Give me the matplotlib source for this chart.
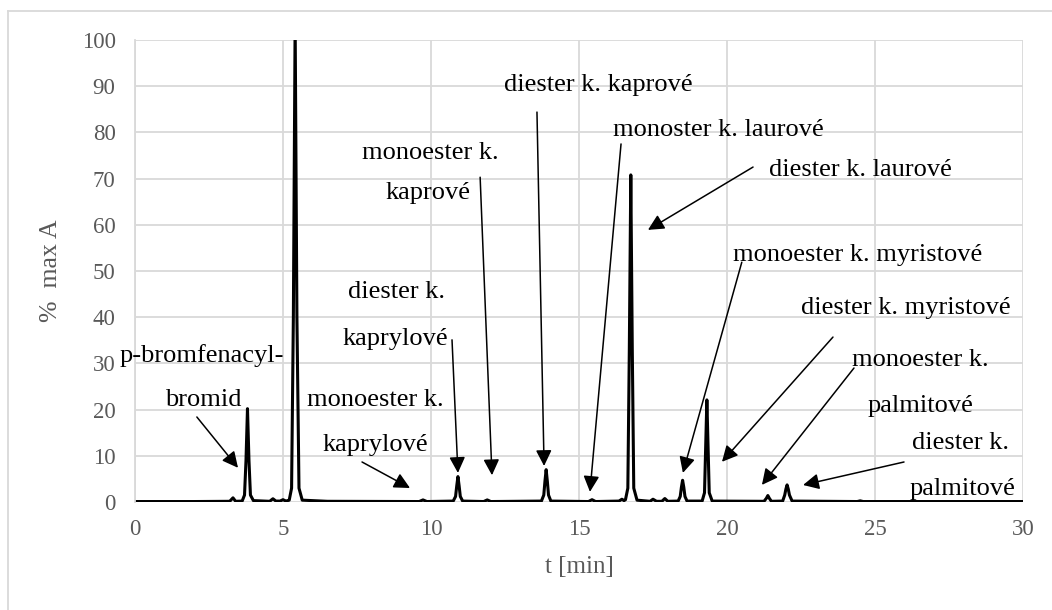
import matplotlib
matplotlib.use("Agg")
import matplotlib.pyplot as plt
from matplotlib.lines import Line2D

# ---------------- data ----------------
t_min = [0.0, 2.0, 3.20, 3.31, 3.40, 3.62, 3.70, 3.75, 3.80, 3.85, 3.90, 4.00,
         4.55, 4.66, 4.76, 4.90, 5.00, 5.10, 5.21, 5.29, 5.35, 5.41, 5.47, 5.54, 5.65,
         6.5, 9.60, 9.73, 9.86, 10.75, 10.83, 10.87, 10.91, 10.95, 10.99, 11.07,
         11.78, 11.90, 12.02, 13.73, 13.81, 13.85, 13.89, 13.93, 13.97, 14.05,
         15.32, 15.44, 15.56, 16.35, 16.45, 16.52, 16.57, 16.65, 16.70, 16.75, 16.80, 16.85, 16.96,
         17.40, 17.50, 17.62, 17.80, 17.90, 18.00, 18.35, 18.42, 18.46, 18.50, 18.54, 18.58, 18.65,
         19.16, 19.24, 19.28, 19.32, 19.36, 19.40, 19.50,
         21.25, 21.33, 21.38, 21.43, 21.50, 21.88, 21.95, 21.99, 22.03, 22.07, 22.11, 22.20,
         24.40, 24.50, 24.60, 30.0]
signal = [0.1, 0.1, 0.15, 0.9, 0.15, 0.2, 1.5, 9.0, 20.2, 9.0, 1.5, 0.3,
          0.15, 0.7, 0.2, 0.2, 0.5, 0.2, 0.4, 3.0, 40.0, 104.0, 40.0, 3.0, 0.4,
          0.15, 0.1, 0.45, 0.1, 0.2, 1.2, 3.5, 5.5, 3.5, 1.2, 0.2,
          0.1, 0.45, 0.1, 0.2, 1.5, 4.5, 7.0, 4.5, 1.5, 0.2,
          0.1, 0.5, 0.1, 0.2, 0.6, 0.3, 0.5, 3.0, 33.0, 70.8, 33.0, 3.0, 0.4,
          0.15, 0.6, 0.15, 0.15, 0.75, 0.15, 0.2, 1.2, 3.2, 4.7, 3.2, 1.2, 0.2,
          0.2, 2.0, 12.0, 22.1, 12.0, 2.0, 0.2,
          0.15, 0.8, 1.4, 0.8, 0.15, 0.2, 1.5, 2.8, 3.7, 2.8, 1.5, 0.2,
          0.1, 0.25, 0.1, 0.1]

x_ticks = [0, 5, 10, 15, 20, 25, 30]
y_ticks = [0, 10, 20, 30, 40, 50, 60, 70, 80, 90, 100]
x_label = "t [min]"
y_label = "%  max A"

label_lines = [
    ["p-bromfenacyl-", "bromid"],
    ["monoester k.", "kaprylové"],
    ["diester k.", "kaprylové"],
    ["monoester k.", "kaprové"],
    ["diester k. kaprové"],
    ["monoster k. laurové"],
    ["diester k. laurové"],
    ["monoester k. myristové"],
    ["diester k. myristové"],
    ["monoester k.", "palmitové"],
    ["diester k.", "palmitové"],
]

# ---------------- layout (label centres and arrows, in data units) ----------------
label_pos = [
    [(2.26, 31.8), (2.30, 22.1)],
    [(8.11, 22.1), (8.11, 12.3)],
    [(8.85, 45.5), (8.78, 35.3)],
    [(9.99, 75.5), (9.90, 66.9)],
    [(15.64, 90.2)],
    [(19.70, 80.5)],
    [(24.52, 71.9)],
    [(24.42, 53.4)],
    [(26.05, 41.9)],
    [(26.52, 30.7), (26.55, 20.8)],
    [(27.90, 12.8), (27.94, 2.8)],
]
arrows = [
    ((2.09, 18.4), (3.48, 7.4)),
    ((7.67, 8.66), (9.29, 3.03)),
    ((10.71, 35.1), (10.91, 6.3)),
    ((11.66, 70.3), (12.06, 5.8)),
    ((13.58, 84.4), (13.82, 7.8)),
    ((16.42, 77.5), (15.37, 2.2)),
    ((20.88, 72.5), (17.33, 58.9)),
    ((20.50, 51.9), (18.51, 6.3)),
    ((23.58, 35.7), (19.83, 8.7)),
    ((24.29, 29.0), (21.18, 3.7)),
    ((25.98, 8.66), (22.57, 3.68)),
]

plt.rcParams['font.family'] = ['Liberation Serif', 'DejaVu Serif']

fig = plt.figure(figsize=(10.52, 6.10), dpi=100)
ax = fig.add_axes([135 / 1052, 1 - 502 / 610, 888 / 1052, 462 / 610])

grid_c = '#d9d9d9'
ax.set_xlim(0, 30)
ax.set_ylim(0, 100)
ax.set_xticks(x_ticks)
ax.set_yticks(y_ticks)
ax.grid(True, color=grid_c, lw=1.3)
ax.set_axisbelow(True)
for s in ['top', 'right', 'bottom']:
    ax.spines[s].set_visible(False)
ax.spines['left'].set_color(grid_c)
ax.spines['left'].set_linewidth(1.3)
ax.tick_params(length=0, labelsize=16.5, labelcolor='#595959')
ax.tick_params(axis='y', pad=14)
ax.tick_params(axis='x', pad=12)
ax.set_xlabel(x_label, fontsize=18, color='#595959', labelpad=12)
ax.set_ylabel(y_label, fontsize=18.5, color='#595959', labelpad=14)

ax.plot(t_min, signal, color='black', lw=2.2, solid_joinstyle='round', clip_on=True)

for lines, poss in zip(label_lines, label_pos):
    for txt, (x, y) in zip(lines, poss):
        ax.text(x, y, txt, ha='center', va='center', fontsize=19, color='black',
                clip_on=False)

for (start, end) in arrows:
    ax.annotate('', xy=end, xytext=start,
                arrowprops=dict(arrowstyle='-|>', color='black', lw=1.1,
                                mutation_scale=24, shrinkA=0, shrinkB=0),
                annotation_clip=False)

# outer chart border (only top and left are inside the image)
fig.add_artist(Line2D([7.5 / 1052, 7.5 / 1052], [0, 1 - 10.5 / 610],
                      transform=fig.transFigure, color=grid_c, lw=1.3))
fig.add_artist(Line2D([7.5 / 1052, 1], [1 - 10.5 / 610, 1 - 10.5 / 610],
                      transform=fig.transFigure, color=grid_c, lw=1.3))

fig.savefig('out.png', dpi=100)
